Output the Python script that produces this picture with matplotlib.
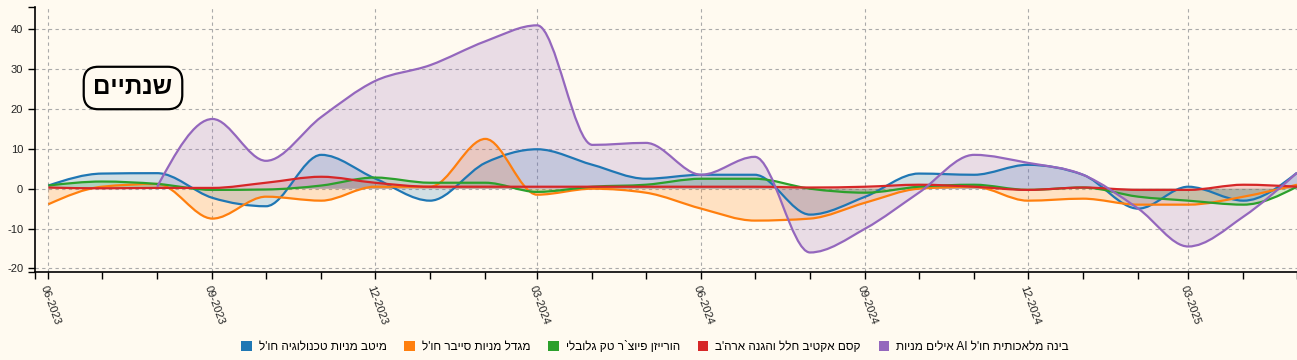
import numpy as np
import matplotlib
matplotlib.use("Agg")
import matplotlib.pyplot as plt
import matplotlib.dates as mdates
from matplotlib.path import Path
from matplotlib.patches import PathPatch, Patch
from datetime import datetime

plt.rcParams['font.family'] = ['Liberation Sans', 'DejaVu Sans']
plt.rcParams['axes.unicode_minus'] = False

# monthly points, Jun 2023 .. May 2025
months = ['2023-06', '2023-07', '2023-08', '2023-09', '2023-10', '2023-11', '2023-12',
          '2024-01', '2024-02', '2024-03', '2024-04', '2024-05', '2024-06', '2024-07',
          '2024-08', '2024-09', '2024-10', '2024-11', '2024-12',
          '2025-01', '2025-02', '2025-03', '2025-04', '2025-05']

blue = [0.8, 3.8, 3.9, -2.3, -4.4, 8.5, 2.6, -3.0, 6.5, 9.9, 6.0, 2.5, 3.5, 3.5,
        -6.5, -2.0, 3.8, 3.5, 6.0, 3.5, -5.0, 0.5, -3.0, 4.0]
orange = [-3.9, 0.5, 1.2, -7.5, -2.0, -3.0, 0.5, 0.5, 12.5, -1.5, 0.0, -1.0, -5.0, -8.0,
          -7.5, -3.5, 0.0, 0.5, -3.0, -2.5, -4.0, -4.0, -2.0, 1.0]
green = [0.8, 1.8, 1.2, -0.3, -0.2, 0.8, 2.8, 1.5, 1.5, -0.8, 0.5, 1.0, 2.5, 2.5,
         0.0, -1.0, 0.5, 1.0, -0.3, 0.3, -2.0, -3.0, -4.0, 0.5]
red = [0.3, 0.1, 0.2, 0.2, 1.5, 3.0, 1.5, 0.5, 0.5, 0.5, 0.5, 0.5, 0.5, 0.5,
       0.3, 0.5, 1.0, 0.5, -0.3, 0.3, -0.3, -0.3, 1.0, 0.5]
purple = [np.nan, np.nan, 0.5, 17.5, 7.0, 18.0, 27.0, 31.0, 37.0, 41.0, 11.0, 11.5, 3.5, 8.0,
          -16.0, -10.0, -1.0, 8.5, 6.5, 3.5, -5.0, -14.5, -7.0, 4.0]

labels = ["מיטב מניות טכנולוגיה חו'ל",
          "מגדל מניות סייבר חו'ל",
          "הורייזן פיוצ`ר טק גלובלי",
          "קסם אקטיב חלל והגנה ארה'ב",
          "בינה מלאכותית חו'ל AI אילים מניות"]
colors = ['#1f77b4', '#ff7f0e', '#2ca02c', '#d62728', '#9467bd']
series = [blue, orange, green, red, purple]
title = "שנתיים"


def rtl(s):
    # matplotlib has no bidi, flip to visual order and keep latin runs readable
    return s[::-1].replace('IA', 'AI')


def monotone_path(x, y, close=False):
    # d3 curveMonotoneX as cubic bezier segments
    n = len(x)
    h = np.diff(x)
    s = np.diff(y) / h
    t = np.zeros(n)
    for i in range(1, n - 1):
        p = (s[i - 1] * h[i] + s[i] * h[i - 1]) / (h[i - 1] + h[i])
        t[i] = (np.sign(s[i - 1]) + np.sign(s[i])) * min(abs(s[i - 1]), abs(s[i]), 0.5 * abs(p))
    t[0] = (3 * s[0] - t[1]) / 2 if n > 2 else s[0]
    t[-1] = (3 * s[-1] - t[-2]) / 2 if n > 2 else s[-1]
    verts = [(x[0], y[0])]
    codes = [Path.MOVETO]
    for i in range(n - 1):
        dx = h[i] / 3
        verts += [(x[i] + dx, y[i] + dx * t[i]), (x[i + 1] - dx, y[i + 1] - dx * t[i + 1]), (x[i + 1], y[i + 1])]
        codes += [Path.CURVE4] * 3
    if close:
        verts += [(x[-1], 0), (x[0], 0), (x[0], 0)]
        codes += [Path.LINETO, Path.LINETO, Path.CLOSEPOLY]
    return Path(verts, codes)


bg = '#fffaf0'
fig = plt.figure(figsize=(12.97, 3.6), dpi=100, facecolor=bg)
ax = fig.add_axes([35 / 1297, 88 / 360, 1 - 35 / 1297, 265 / 360])
ax.set_facecolor(bg)

xs = mdates.date2num([datetime.strptime(m, '%Y-%m') for m in months])

for vals, col in zip(series, colors):
    v = np.array(vals, dtype=float)
    ok = ~np.isnan(v)
    xx, yy = xs[ok], v[ok]
    ax.add_patch(PathPatch(monotone_path(xx, yy, close=True), facecolor=col, alpha=0.2, edgecolor='none', zorder=2))
    ax.add_patch(PathPatch(monotone_path(xx, yy), facecolor='none', edgecolor=col, lw=1.6, zorder=3))

x0 = mdates.date2num(datetime(2023, 5, 24, 12))
x1 = mdates.date2num(datetime(2025, 4, 25))
ax.set_xlim(x0, x1)
ax.set_ylim(-20.9, 45.6)

ax.xaxis.set_major_locator(mdates.MonthLocator(bymonth=[3, 6, 9, 12]))
ax.xaxis.set_major_formatter(mdates.DateFormatter('%m-%Y'))
ax.set_xticks(list(xs) + [x0], minor=True)
ax.set_yticks([-20, -10, 0, 10, 20, 30, 40])
ax.set_yticks([-20.9, 45.6], minor=True)
ax.tick_params(which='both', length=5, width=1, color='black', labelsize=8, labelcolor='#222222')
for lab in ax.get_xticklabels():
    lab.set_rotation(-70)
    lab.set_ha('left')
    lab.set_va('top')
    lab.set_rotation_mode('anchor')

ax.grid(True, which='major', color='#aaaaaa', linestyle=(0, (3, 3)), lw=0.8)
ax.set_axisbelow(True)
for sp in ['top', 'right']:
    ax.spines[sp].set_visible(False)
for sp in ['left', 'bottom']:
    ax.spines[sp].set_linewidth(1.2)

fig.text(133 / 1297, 1 - 88 / 360, rtl(title), ha='center', va='center', fontsize=17.5, fontweight='bold',
         bbox=dict(boxstyle='round,pad=0.4,rounding_size=0.6', facecolor=bg, edgecolor='black', lw=1.6))

handles = [Patch(facecolor=c, edgecolor='none') for c in colors]
fig.legend(handles, [rtl(l) for l in labels], loc='center', bbox_to_anchor=(0.505, 0.036), ncol=5,
           frameon=False, fontsize=8.5, handlelength=0.9, handleheight=0.9, handletextpad=0.6, columnspacing=1.5)

fig.savefig('out.png', dpi=100, facecolor=bg)
